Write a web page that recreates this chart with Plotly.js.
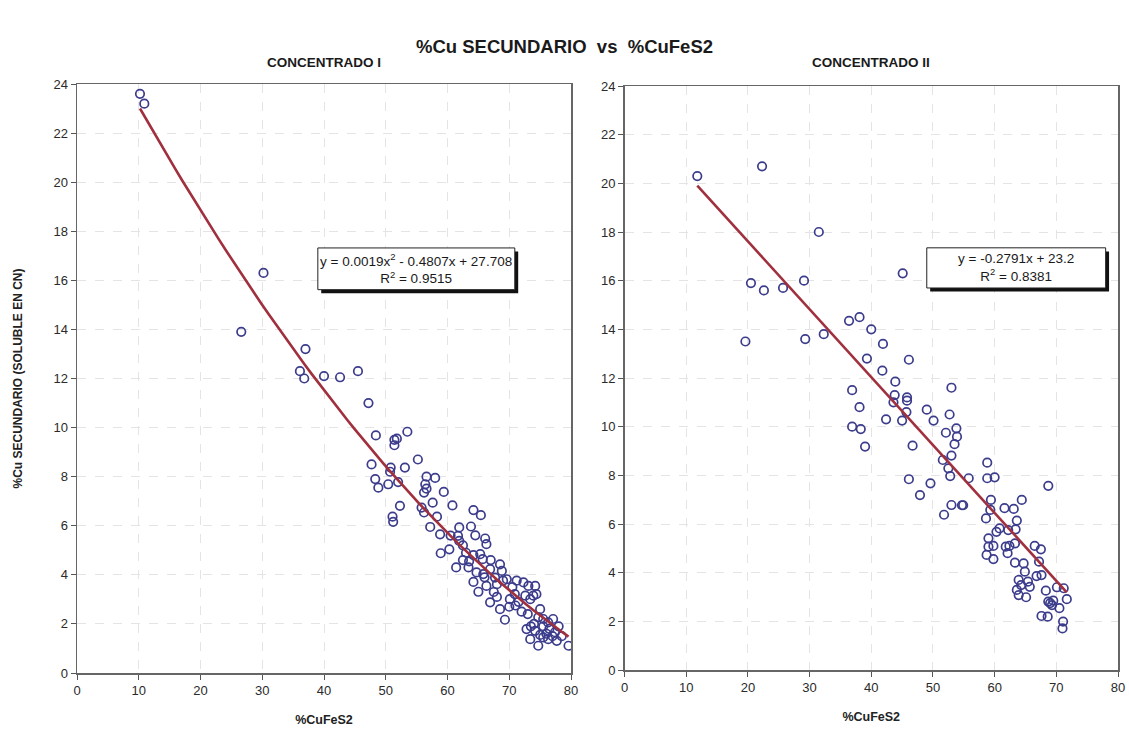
<!DOCTYPE html>
<html>
<head>
<meta charset="utf-8">
<script src="https://cdn.plot.ly/plotly-3.0.1.min.js"></script>
<style>
  html, body { margin: 0; padding: 0; background: #ffffff; }
  #chart { width: 1129px; height: 733px; }
</style>
</head>
<body>
<div id="chart"></div>
<script>
// Concentrado I: %CuFeS2 vs %Cu secundario
const concIX = [10.2,10.9,26.6,30.2,36.1,36.8,37.0,40.0,42.6,45.5,
  47.2,48.4,51.4,51.8,51.4,53.5,55.2,47.7,50.8,53.1,
  48.3,48.8,50.4,52.0,50.7,56.6,58.0,56.4,56.6,56.2,
  59.4,57.6,60.8,52.3,55.8,56.2,51.1,51.2,58.3,64.2,
  65.4,57.2,58.8,61.9,61.7,61.9,63.8,64.5,66.1,66.3,
  58.9,60.3,64.2,65.3,65.7,61.4,63.4,64.7,65.8,66.9,
  67.7,68.5,68.8,64.2,65.0,66.3,68.0,69.0,69.6,66.9,
  68.5,69.3,70.1,70.9,71.2,72.3,73.1,74.2,73.4,73.9,
  72.6,74.4,74.7,75.5,76.3,77.1,72.8,74.2,73.4,74.7,
  75.5,76.3,77.7,77.4,79.6,75.0,76.0,62.5,63.0,67.0,
  67.5,70.5,71.5,72.0,73.0,75.0,76.5,78.5,70.0,68.0,
  66.0,62.5,60.5,63.5,71.0,74.0,75.5,78.0,77.0,73.5];
const concIY = [23.6,23.2,13.9,16.3,12.3,12.0,13.2,12.1,12.05,12.3,
  11.0,9.68,9.5,9.55,9.28,9.83,8.7,8.5,8.37,8.37,
  7.9,7.55,7.69,7.78,8.2,8.0,7.95,7.69,7.51,7.35,
  7.38,6.94,6.83,6.81,6.74,6.54,6.37,6.16,6.37,6.64,
  6.43,5.95,5.65,5.93,5.59,5.38,5.97,5.61,5.48,5.25,
  4.88,5.04,4.8,4.84,4.64,4.3,4.3,4.1,4.03,4.23,
  3.89,4.43,4.16,3.71,3.31,3.55,3.62,3.76,3.82,2.88,
  2.6,2.17,3.01,3.21,3.76,3.69,3.55,3.55,3.01,3.15,
  3.15,3.21,2.27,2.2,2.06,2.2,1.79,1.72,1.38,1.11,
  1.45,1.38,1.31,1.66,1.11,1.55,1.6,4.6,4.9,4.6,
  3.3,3.5,2.9,2.5,2.4,2.6,1.8,1.5,2.7,3.1,
  3.9,5.2,5.6,4.55,2.75,2.0,1.9,1.9,1.5,1.9];

// Concentrado II
const concIIX = [11.8,22.3,31.5,45.1,20.5,22.6,25.7,29.1,19.6,29.3,
  32.3,36.4,38.1,40.0,41.9,39.3,41.8,46.1,43.9,36.9,
  53.0,43.8,43.6,45.8,45.8,38.1,45.7,49.0,52.7,36.9,
  38.3,42.4,45.0,50.1,53.8,52.1,53.9,53.5,39.0,46.7,
  51.6,53.0,52.5,52.8,55.8,46.1,49.6,47.9,58.8,58.8,
  60.0,53.0,54.7,54.9,51.8,59.4,58.6,68.7,
  59.3,61.6,63.1,64.4,63.6,63.4,60.8,60.3,62.2,59.0,
  59.0,59.8,58.7,59.8,61.8,62.4,62.1,63.3,63.3,64.7,
  64.9,63.9,64.3,65.4,65.7,63.6,63.9,65.1,66.5,67.5,
  67.2,66.8,67.6,70.1,71.2,71.7,68.3,68.7,69.3,70.5,
  67.6,68.6,71.1,71.0,69.0,69.5];
const concIIY = [20.3,20.7,18.0,16.3,15.9,15.6,15.7,16.0,13.5,13.6,
  13.8,14.35,14.5,14.0,13.4,12.8,12.3,12.75,11.85,11.5,
  11.6,11.3,11.0,11.2,11.07,10.8,10.6,10.7,10.5,10.0,
  9.9,10.3,10.25,10.25,9.93,9.75,9.59,9.28,9.18,9.22,
  8.63,8.81,8.29,7.97,7.88,7.84,7.67,7.19,8.52,7.88,
  7.92,6.78,6.77,6.77,6.38,6.99,6.23,7.57,
  6.58,6.65,6.62,6.99,6.14,5.78,5.82,5.68,5.75,5.41,
  5.07,5.10,4.73,4.56,5.07,5.1,4.8,5.2,4.41,4.38,
  4.04,3.70,3.49,3.63,3.42,3.29,3.08,2.99,5.10,4.96,
  4.45,3.86,3.90,3.40,3.36,2.91,3.26,2.81,2.67,2.54,
  2.22,2.19,1.99,1.71,2.75,2.85];

// Trendline coefficients (highest power first) and R² values
const fitI = [0.0019, -0.4807, 27.708];
const fitII = [-0.2791, 23.2];
const r2I = "0.9515";
const r2II = "0.8381";

const xTicks = [0, 10, 20, 30, 40, 50, 60, 70, 80];
const yTicks = [0, 2, 4, 6, 8, 10, 12, 14, 16, 18, 20, 22, 24];

function polyval(c, x) { return c.reduce((acc, k) => acc * x + k, 0); }
function trend(c, xs) {
  const lo = Math.min(...xs), hi = Math.max(...xs);
  const tx = [], ty = [];
  for (let i = 0; i <= 60; i++) {
    const x = lo + (hi - lo) * i / 60;
    tx.push(x); ty.push(polyval(c, x));
  }
  return { x: tx, y: ty };
}

const markerStyle = { symbol: 'circle-open', size: 8.5, color: '#3c3c8c', line: { width: 1.7, color: '#3c3c8c' } };
const lineStyle = { color: '#a0303e', width: 2.6 };

const tI = trend(fitI, concIX);
const tII = trend(fitII, concIIX);

const data = [
  { x: concIX, y: concIY, xaxis: 'x', yaxis: 'y', mode: 'markers', type: 'scatter', marker: markerStyle, hoverinfo: 'x+y' },
  { x: tI.x, y: tI.y, xaxis: 'x', yaxis: 'y', mode: 'lines', type: 'scatter', line: lineStyle, hoverinfo: 'skip' },
  { x: concIIX, y: concIIY, xaxis: 'x2', yaxis: 'y2', mode: 'markers', type: 'scatter', marker: markerStyle, hoverinfo: 'x+y' },
  { x: tII.x, y: tII.y, xaxis: 'x2', yaxis: 'y2', mode: 'lines', type: 'scatter', line: lineStyle, hoverinfo: 'skip' }
];

const fontFam = '"Liberation Sans", Arial, sans-serif';
const tickFont = { family: fontFam, size: 13, color: '#2a2a2a' };

function xAxis(domain, anchor) {
  return {
    domain: domain, anchor: anchor, range: [0, 80], tickvals: xTicks, ticktext: xTicks.map(String),
    showgrid: true, gridcolor: '#e4e4e4', griddash: 'dash', gridwidth: 1,
    zeroline: false, showline: true, linecolor: '#666666', linewidth: 1.5, mirror: true,
    ticks: 'outside', ticklen: 5, tickcolor: '#555555', tickfont: tickFont,
    title: { text: '<b>%CuFeS2</b>', font: { family: fontFam, size: 12.5, color: '#222222' }, standoff: 18 }
  };
}
function yAxis(domain, anchor, withTitle) {
  const ax = {
    domain: domain, anchor: anchor, range: [0, 24], tickvals: yTicks, ticktext: yTicks.map(String),
    showgrid: true, gridcolor: '#e4e4e4', griddash: 'dash', gridwidth: 1,
    zeroline: false, showline: true, linecolor: '#666666', linewidth: 1.5, mirror: true,
    ticks: 'outside', ticklen: 5, tickcolor: '#555555', tickfont: tickFont
  };
  if (withTitle) {
    ax.title = { text: '<b>%Cu SECUNDARIO (SOLUBLE EN CN)</b>', font: { family: fontFam, size: 12, color: '#222222' }, standoff: 28 };
  }
  return ax;
}

// equation boxes with a drop shadow
function eqBox(xr, yr, x0, x1, y0, y1, dx, dy) {
  return [
    { type: 'rect', xref: xr, yref: yr, x0: x0 + dx, x1: x1 + dx, y0: y0 - dy, y1: y1 - dy,
      fillcolor: '#111111', line: { width: 0 }, layer: 'above' },
    { type: 'rect', xref: xr, yref: yr, x0: x0, x1: x1, y0: y0, y1: y1,
      fillcolor: '#ffffff', line: { color: '#222222', width: 1 }, layer: 'above' }
  ];
}

const eqFont = { family: fontFam, size: 13.5, color: '#1a1a1a' };

const layout = {
  width: 1129, height: 733,
  margin: { l: 0, r: 0, t: 0, b: 0 },
  paper_bgcolor: '#ffffff', plot_bgcolor: '#ffffff',
  showlegend: false,
  title: { text: '<b>%Cu SECUNDARIO  vs  %CuFeS2</b>', x: 0.5, xanchor: 'center', y: 1 - 47 / 733, yanchor: 'middle',
    font: { family: fontFam, size: 18.5, color: '#1a1a1a' } },
  xaxis: xAxis([77 / 1129, 571 / 1129], 'y'),
  yaxis: yAxis([1 - 673 / 733, 1 - 84 / 733], 'x', true),
  xaxis2: xAxis([624.5 / 1129, 1118 / 1129], 'y2'),
  yaxis2: yAxis([1 - 670 / 733, 1 - 86 / 733], 'x2', false),
  shapes: [].concat(
    eqBox('x', 'y', 39.0, 70.9, 15.62, 17.32, 0.55, 0.15),
    eqBox('x2', 'y2', 49.0, 78.0, 15.70, 17.35, 0.55, 0.15)
  ),
  annotations: [
    { text: '<b>CONCENTRADO I</b>', xref: 'paper', yref: 'paper', x: 324 / 1129, y: 1 - 62 / 733,
      xanchor: 'center', yanchor: 'middle', showarrow: false, font: { family: fontFam, size: 13.5, color: '#1a1a1a' } },
    { text: '<b>CONCENTRADO II</b>', xref: 'paper', yref: 'paper', x: 871 / 1129, y: 1 - 62 / 733,
      xanchor: 'center', yanchor: 'middle', showarrow: false, font: { family: fontFam, size: 13.5, color: '#1a1a1a' } },
    { text: 'y = ' + fitI[0] + 'x<sup>2</sup> - ' + Math.abs(fitI[1]) + 'x + ' + fitI[2] + '<br>R<sup>2</sup> = ' + r2I,
      xref: 'x', yref: 'y', x: (39.0 + 70.9) / 2, y: (15.62 + 17.32) / 2, xanchor: 'center', yanchor: 'middle',
      showarrow: false, font: eqFont },
    { text: 'y = ' + fitII[0] + 'x + ' + fitII[1] + '<br>R<sup>2</sup> = ' + r2II,
      xref: 'x2', yref: 'y2', x: (49.0 + 78.0) / 2, y: (15.70 + 17.35) / 2, xanchor: 'center', yanchor: 'middle',
      showarrow: false, font: eqFont }
  ]
};

Plotly.newPlot('chart', data, layout, { displayModeBar: false, staticPlot: true });
</script>
</body>
</html>
